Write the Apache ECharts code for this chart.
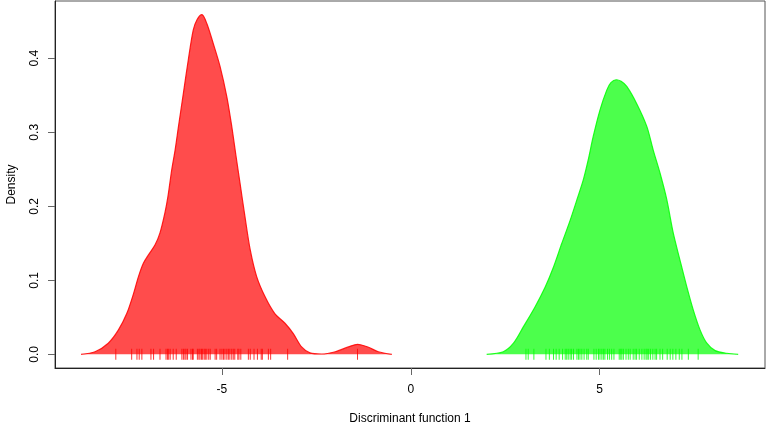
<!DOCTYPE html>
<html>
<head>
<meta charset="utf-8">
<script src="https://cdn.jsdelivr.net/npm/echarts@6/dist/echarts.min.js"></script>
<style>html,body{margin:0;padding:0;background:#fff;}#c{width:767px;height:423px;}</style>
</head>
<body>
<div id="c"></div>
<script>
// Density curve of group 1 (red)
const redX = [-8.73,-8.36,-8.01,-7.74,-7.52,-7.34,-7.21,-7.08,-6.95,-6.77,-6.64,-6.51,-6.43,-6.33,-6.24,-6.15,-6.02,-5.89,-5.76,-5.66,-5.53,-5.40,-5.23,-5.05,-4.87,-4.74,-4.63,-4.52,-4.39,-4.25,-4.08,-3.86,-3.60,-3.33,-3.11,-2.89,-2.67,-2.36,-2.00,-1.65,-1.41,-1.12,-0.86,-0.50];
const redY = [0.000,0.0035,0.015,0.033,0.055,0.082,0.105,0.123,0.134,0.148,0.164,0.191,0.213,0.249,0.276,0.308,0.353,0.398,0.438,0.452,0.459,0.447,0.420,0.389,0.348,0.308,0.269,0.231,0.186,0.141,0.105,0.078,0.055,0.042,0.028,0.010,0.002,0.0004,0.0035,0.010,0.0135,0.0095,0.0035,0.000];
// Density curve of group 2 (green)
const greenX = [2.01,2.45,2.72,2.98,3.29,3.56,3.78,4.00,4.22,4.40,4.57,4.70,4.83,5.01,5.19,5.30,5.44,5.57,5.72,5.98,6.25,6.42,6.60,6.78,6.95,7.13,7.31,7.48,7.66,7.84,8.06,8.37,8.67];
const greenY = [0.000,0.0035,0.015,0.037,0.064,0.091,0.118,0.150,0.181,0.209,0.236,0.263,0.294,0.330,0.357,0.367,0.371,0.369,0.362,0.339,0.308,0.276,0.245,0.209,0.164,0.127,0.091,0.060,0.033,0.015,0.005,0.0014,0.000];
// Rug (individual observations)
const redRug = [-7.81,-7.39,-7.25,-7.19,-7.12,-6.88,-6.81,-6.64,-6.48,-6.44,-6.41,-6.37,-6.29,-6.21,-6.06,-6.02,-5.98,-5.95,-5.91,-5.82,-5.78,-5.76,-5.65,-5.61,-5.58,-5.54,-5.51,-5.47,-5.44,-5.40,-5.35,-5.31,-5.18,-5.14,-5.05,-5.00,-4.96,-4.92,-4.87,-4.83,-4.79,-4.74,-4.70,-4.66,-4.58,-4.55,-4.50,-4.30,-4.25,-4.15,-4.06,-3.96,-3.93,-3.77,-3.71,-3.26,-1.41];
const greenRug = [3.05,3.11,3.26,3.58,3.67,3.78,3.85,3.93,4.02,4.09,4.13,4.17,4.22,4.26,4.31,4.40,4.44,4.48,4.53,4.59,4.66,4.70,4.85,4.91,4.97,5.01,5.06,5.10,5.14,5.21,5.26,5.32,5.38,5.52,5.56,5.59,5.63,5.70,5.76,5.81,5.89,5.94,5.98,6.05,6.12,6.18,6.23,6.26,6.30,6.35,6.41,6.47,6.51,6.60,6.67,6.79,6.87,6.94,7.02,7.11,7.18,7.35,7.61];
// Tick values
const xTicks = [-5, 0, 5];
const yTicks = [0, 0.1, 0.2, 0.3, 0.4];
const xLabel = 'Discriminant function 1';
const yLabel = 'Density';

const pairs = (xs, ys) => xs.map((x, i) => [x, ys[i]]);
const rug = xs => xs.map(x => [x, 0]);
const font = 'Liberation Sans, Arial, sans-serif';

const chart = echarts.init(document.getElementById('c'), null, {renderer: 'canvas'});
chart.setOption({
  animation: false,
  backgroundColor: '#fff',
  grid: {left: 55, right: 2, top: 1, bottom: 55, show: true, borderColor: '#555', borderWidth: 1,
    containLabel: false, outerBoundsMode: 'none'},
  xAxis: {
    type: 'value', min: -9.42, max: 9.38,
    splitLine: {show: false},
    axisLine: {onZero: false, lineStyle: {color: '#222', width: 1}},
    axisTick: {show: true, length: 7, lineStyle: {color: '#666'}, customValues: xTicks},
    axisLabel: {customValues: xTicks, margin: 16, color: '#000', fontSize: 12, fontFamily: font,
      formatter: v => String(v)},
    name: xLabel, nameLocation: 'middle', nameGap: 45,
    nameTextStyle: {color: '#000', fontSize: 12, fontFamily: font}
  },
  yAxis: {
    type: 'value', min: -0.0185, max: 0.4774,
    splitLine: {show: false},
    axisLine: {show: true, onZero: false, lineStyle: {color: '#222', width: 1}},
    axisTick: {show: true, length: 7, lineStyle: {color: '#666'}, customValues: yTicks},
    axisLabel: {customValues: yTicks, rotate: 90, margin: 14, color: '#000', fontSize: 12, fontFamily: font,
      formatter: v => v.toFixed(1)},
    name: yLabel, nameLocation: 'middle', nameGap: 37,
    nameTextStyle: {color: '#000', fontSize: 12, fontFamily: font}
  },
  series: [
    {type: 'line', data: pairs(redX, redY), smooth: 0.3, showSymbol: false, symbol: 'none',
      lineStyle: {color: 'rgba(255,0,0,0.85)', width: 1.2},
      areaStyle: {color: '#ff0000', opacity: 0.7, origin: 0}},
    {type: 'line', data: pairs(greenX, greenY), smooth: 0.3, showSymbol: false, symbol: 'none',
      lineStyle: {color: 'rgba(0,255,0,0.85)', width: 1.2},
      areaStyle: {color: '#00ff00', opacity: 0.7, origin: 0}},
    {type: 'scatter', data: rug(redRug), symbol: 'rect', symbolSize: [1, 11],
      itemStyle: {color: '#ff0000'}, silent: true},
    {type: 'scatter', data: rug(greenRug), symbol: 'rect', symbolSize: [1, 11],
      itemStyle: {color: '#00ff00'}, silent: true}
  ]
});
</script>
</body>
</html>
